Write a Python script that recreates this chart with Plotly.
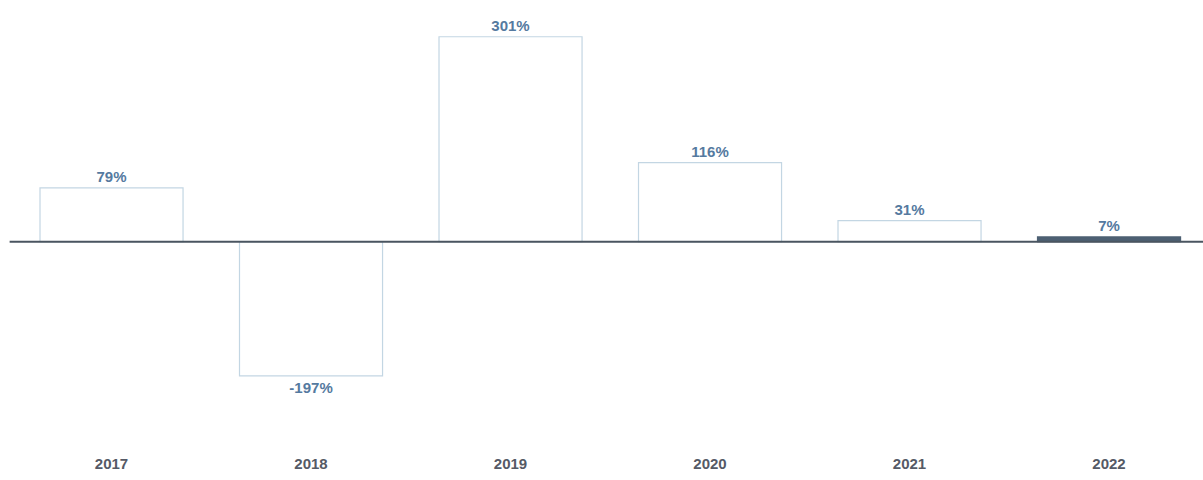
import plotly.graph_objects as go

# Year-over-year change, percent
years = ["2017", "2018", "2019", "2020", "2021", "2022"]
change_pct = [79, -197, 301, 116, 31, 7]
value_labels = ["79%", "-197%", "301%", "116%", "31%", "7%"]

fill_colors = ["#ffffff", "#ffffff", "#ffffff", "#ffffff", "#ffffff", "#4d6073"]
edge_colors = ["#c3d6e3", "#c3d6e3", "#c3d6e3", "#c3d6e3", "#c3d6e3", "#4d6073"]

fig = go.Figure(
    go.Bar(
        x=years,
        y=change_pct,
        text=value_labels,
        textposition="outside",
        cliponaxis=False,
        textfont=dict(family="Liberation Sans", size=15, color="#557aa0", weight="bold"),
        marker=dict(color=fill_colors, line=dict(color=edge_colors, width=1.2)),
        width=0.717,
        hoverinfo="skip",
    )
)

fig.update_layout(
    width=1203,
    height=480,
    margin=dict(l=0, r=0, t=0, b=30),
    paper_bgcolor="white",
    plot_bgcolor="white",
    showlegend=False,
    xaxis=dict(
        range=[-0.559, 5.471],
        showgrid=False,
        showline=False,
        ticks="",
        tickfont=dict(family="Liberation Sans", size=15, color="#555a66", weight="bold"),
        ticklabelstandoff=3,
    ),
    yaxis=dict(
        range=[-306, 355],
        visible=False,
        showgrid=False,
        zeroline=False,
    ),
    shapes=[
        dict(
            type="line",
            xref="paper",
            yref="y",
            x0=0.008,
            x1=1.0,
            y0=0,
            y1=0,
            line=dict(color="#4a5560", width=2),
            layer="above",
        )
    ],
)

fig.write_html("out.html")
